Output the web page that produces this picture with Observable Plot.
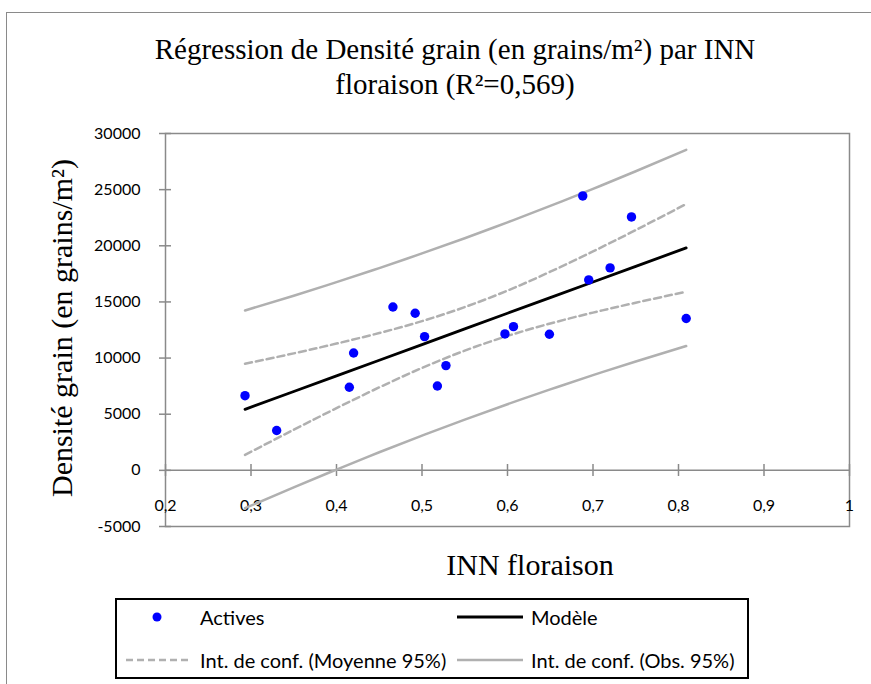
<!DOCTYPE html>
<html><head><meta charset="utf-8">
<script src="https://cdn.jsdelivr.net/npm/d3@7"></script>
<script src="https://cdn.jsdelivr.net/npm/@observablehq/plot@0.6"></script>
<style>
body{margin:0;background:#fff;}
#wrap{position:relative;width:871px;height:684px;overflow:hidden;background:#fff;}
#chart{position:absolute;left:0;top:0;}
.fr{position:absolute;background:#8a8a8a;}
.title{position:absolute;left:40px;width:830px;top:32px;text-align:center;font-family:"Liberation Serif",serif;font-size:29px;line-height:35px;color:#000;}
.ylab{position:absolute;left:62px;top:328px;transform:translate(-50%,-50%) rotate(-90deg);white-space:nowrap;font-family:"Liberation Serif",serif;font-size:30px;color:#000;}
.xlab{position:absolute;left:530px;top:565px;transform:translate(-50%,-50%);white-space:nowrap;font-family:"Liberation Serif",serif;font-size:30px;color:#000;}
#legend{position:absolute;left:115px;top:598px;width:634px;height:81px;box-sizing:border-box;border:2px solid #000;background:#fff;}
#legend svg{position:absolute;left:-2px;top:-2px;}
.lt{position:absolute;font-family:Lato,"Open Sans",sans-serif;font-size:20px;line-height:24px;color:#000;white-space:nowrap;}
</style></head>
<body>
<div id="wrap">
  <div id="chart"></div>
  <div class="fr" style="left:6px;top:12px;width:865px;height:1px;"></div>
  <div class="fr" style="left:6px;top:12px;width:1px;height:672px;"></div>
  <div class="title">Régression de Densité grain (en grains/m²) par INN<br>floraison (R²=0,569)</div>
  <div class="ylab">Densité grain (en grains/m²)</div>
  <div class="xlab">INN floraison</div>
  <div id="legend"></div>
</div>
<script>
// Observations (Actives)
const inn = [0.293, 0.330, 0.415, 0.420, 0.466, 0.492, 0.503, 0.518, 0.528, 0.597, 0.607, 0.649, 0.688, 0.695, 0.720, 0.745, 0.809];
const densite = [6650, 3550, 7400, 10450, 14550, 13990, 11910, 7510, 9330, 12150, 12800, 12120, 24440, 16960, 18030, 22570, 13520];

// Model and confidence curves read along INN
const curveX = [0.293, 0.35, 0.4, 0.45, 0.5, 0.55, 0.6, 0.65, 0.7, 0.75, 0.809];
const modele = [5435, 7020, 8420, 9810, 11200, 12600, 13990, 15380, 16770, 18170, 19810];
const moyHaut = [9490, 10420, 11290, 12230, 13290, 14540, 16010, 17690, 19500, 21400, 23720];
const moyBas = [1380, 3620, 5540, 7390, 9120, 10660, 11970, 13080, 14050, 14930, 15910];
const obsHaut = [14240, 15550, 16760, 18010, 19320, 20670, 22090, 23550, 25070, 26640, 28550];
const obsBas = [-3370, -1510, 70, 1610, 3090, 4520, 5890, 7210, 8480, 9700, 11070];

const xTicks = [0.2, 0.3, 0.4, 0.5, 0.6, 0.7, 0.8, 0.9, 1];
const yTicks = [-5000, 0, 5000, 10000, 15000, 20000, 25000, 30000];

const pts = inn.map((x, i) => ({x, y: densite[i]}));
const mk = arr => curveX.map((x, i) => ({x, y: arr[i]}));

const axisGray = "#8a8a8a";
const ciGray = "#b0b0b0";

const chart = Plot.plot({
  width: 871,
  height: 684,
  marginLeft: 165,
  marginRight: 22,
  marginTop: 133,
  marginBottom: 158,
  style: {fontFamily: "Lato, 'Open Sans', sans-serif", fontSize: "16px", color: "#000", background: "transparent"},
  x: {domain: [0.2, 1]},
  y: {domain: [-5000, 30000]},
  marks: [
    Plot.frame({stroke: axisGray, strokeWidth: 1.5}),
    Plot.ruleY([0], {stroke: axisGray, strokeWidth: 1.5}),
    Plot.axisY(yTicks, {tickSize: 12, dx: 6, tickPadding: 19, stroke: axisGray, strokeWidth: 1.5, fill: "#000", tickFormat: d => String(d), label: null}),
    Plot.axisX(xTicks, {tickSize: 12, dy: -62, tickPadding: 23, stroke: axisGray, strokeWidth: 1.5, fill: "#000", tickFormat: d => String(d).replace(".", ","), label: null}),
    Plot.line(mk(obsHaut), {x: "x", y: "y", stroke: ciGray, strokeWidth: 2.5, curve: "natural"}),
    Plot.line(mk(obsBas), {x: "x", y: "y", stroke: ciGray, strokeWidth: 2.5, curve: "natural"}),
    Plot.line(mk(moyHaut), {x: "x", y: "y", stroke: ciGray, strokeWidth: 2.5, strokeDasharray: "7,4", curve: "natural"}),
    Plot.line(mk(moyBas), {x: "x", y: "y", stroke: ciGray, strokeWidth: 2.5, strokeDasharray: "7,4", curve: "natural"}),
    Plot.line(mk(modele), {x: "x", y: "y", stroke: "#000", strokeWidth: 2.8}),
    Plot.dot(pts, {x: "x", y: "y", r: 4.7, fill: "#0000ff", stroke: "none"})
  ]
});
document.getElementById("chart").appendChild(chart);

// Legend
const legendItems = [
  {label: "Actives", kind: "dot", col: 0, row: 0},
  {label: "Modèle", kind: "line", col: 1, row: 0},
  {label: "Int. de conf. (Moyenne 95%)", kind: "dash", col: 0, row: 1},
  {label: "Int. de conf. (Obs. 95%)", kind: "ci", col: 1, row: 1}
];
const leg = document.getElementById("legend");
const ns = "http://www.w3.org/2000/svg";
const svg = document.createElementNS(ns, "svg");
svg.setAttribute("width", 634); svg.setAttribute("height", 81);
leg.appendChild(svg);
const colX = [11, 342];      // symbol start within legend box
const rowY = [19, 62];
legendItems.forEach(it => {
  const x0 = colX[it.col], yc = rowY[it.row];
  if (it.kind === "dot") {
    const c = document.createElementNS(ns, "circle");
    c.setAttribute("cx", x0 + 31); c.setAttribute("cy", yc); c.setAttribute("r", 4.5);
    c.setAttribute("fill", "#0000ff");
    svg.appendChild(c);
  } else {
    const l = document.createElementNS(ns, "line");
    l.setAttribute("x1", x0); l.setAttribute("x2", x0 + 66);
    l.setAttribute("y1", yc); l.setAttribute("y2", yc);
    l.setAttribute("stroke", it.kind === "line" ? "#000" : ciGray);
    l.setAttribute("stroke-width", it.kind === "line" ? 2.8 : 2.5);
    if (it.kind === "dash") l.setAttribute("stroke-dasharray", "7,4");
    svg.appendChild(l);
  }
  const t = document.createElement("div");
  t.className = "lt";
  t.textContent = it.label;
  t.style.left = (x0 + 72) + "px";
  t.style.top = (yc - 14) + "px";
  leg.appendChild(t);
});
</script>
</body></html>
